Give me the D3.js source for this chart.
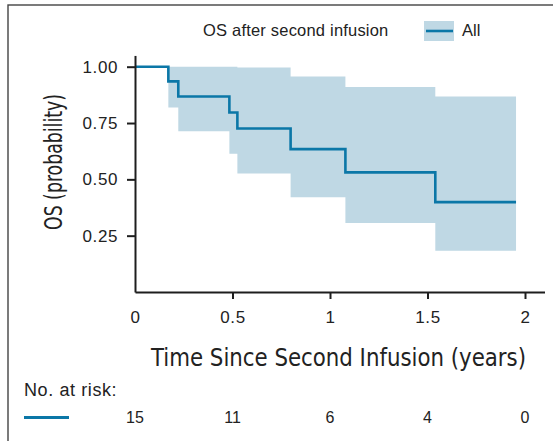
<!DOCTYPE html>
<html>
<head>
<meta charset="utf-8">
<script src="https://cdn.jsdelivr.net/npm/d3@7"></script>
<style>
  html, body { margin: 0; padding: 0; background: #fff; }
  svg { display: block; }
  text { fill: #222; font-family: "Liberation Sans", Arial, Helvetica, sans-serif; }
  .narrow { font-family: "Liberation Sans Narrow", "Arial Narrow", "DejaVu Sans Condensed", "Liberation Sans", sans-serif; }
</style>
</head>
<body>
<script>
// Kaplan–Meier estimate (step starts at each time)
const kmTimes = [0, 0.171, 0.222, 0.484, 0.525, 0.798, 1.079, 1.540, 1.954];
const kmSurv  = [1.0, 0.935, 0.868, 0.797, 0.726, 0.634, 0.531, 0.399, 0.399];
// 95% CI band (step starts at each time)
const ciTimes = [0.171, 0.222, 0.484, 0.525, 0.798, 1.079, 1.540, 1.954];
const ciLower = [0.819, 0.713, 0.614, 0.526, 0.420, 0.306, 0.183, 0.183];
const ciUpper = [1.000, 1.000, 1.000, 0.997, 0.957, 0.910, 0.868, 0.868];
// Axis ticks
const xTicks = [0, 0.5, 1, 1.5, 2];
const xTickLabels = ["0", "0.5", "1", "1.5", "2"];
const yTicks = [0.25, 0.5, 0.75, 1.0];
const yTickLabels = ["0.25", "0.50", "0.75", "1.00"];
// Number at risk
const riskTimes = [0, 0.5, 1, 1.5, 2];
const riskCounts = [15, 11, 6, 4, 0];

const W = 553, H = 441;
const lineColor = "#0b77a7";
const bandColor = "#bfd8e4";
const axisColor = "#1e1e1e";

const svg = d3.select("body").append("svg").attr("width", W).attr("height", H);

// outer frame (open on right/bottom, cropped)
svg.append("rect").attr("x", 8).attr("y", 5).attr("width", 600).attr("height", 500)
  .attr("fill", "none").attr("stroke", "#444").attr("stroke-width", 1.4);

const x = d3.scaleLinear().domain([0, 2.1]).range([135, 135 + 2.1 * 195]);
const y = d3.scaleLinear().domain([0, 1.05]).range([292, 292 - 1.05 * 225.3]);

// CI band
const band = d3.area()
  .x((d, i) => x(ciTimes[i]))
  .y0((d, i) => y(ciLower[i]))
  .y1((d, i) => y(ciUpper[i]))
  .curve(d3.curveStepAfter);
svg.append("path").datum(ciTimes).attr("d", band).attr("fill", bandColor);

// KM line
const line = d3.line()
  .x((d, i) => x(kmTimes[i]))
  .y((d, i) => y(kmSurv[i]))
  .curve(d3.curveStepAfter);
svg.append("path").datum(kmTimes).attr("d", line)
  .attr("fill", "none").attr("stroke", lineColor).attr("stroke-width", 2.6);

// Y axis
const yAxis = d3.axisLeft(y).tickValues(yTicks)
  .tickFormat((d, i) => yTickLabels[i]).tickSize(8).tickPadding(9).tickSizeOuter(0);
const gy = svg.append("g").attr("transform", "translate(135,0)").call(yAxis);
gy.select(".domain").attr("stroke", axisColor).attr("stroke-width", 2);
gy.selectAll(".tick line").attr("stroke", axisColor).attr("stroke-width", 2);
gy.selectAll(".tick text").attr("font-size", 17).attr("fill", "#222")
  .attr("letter-spacing", 0.6)
  .attr("font-family", "Liberation Sans, Arial, sans-serif");

// X axis
const xAxis = d3.axisBottom(x).tickValues(xTicks)
  .tickFormat((d, i) => xTickLabels[i]).tickSize(7).tickPadding(12).tickSizeOuter(0);
const gx = svg.append("g").attr("transform", "translate(0,292)").call(xAxis);
gx.select(".domain").attr("stroke", axisColor).attr("stroke-width", 2);
gx.selectAll(".tick line").attr("stroke", axisColor).attr("stroke-width", 2)
  .attr("opacity", d => d === 0 ? 0 : 1);
gx.selectAll(".tick text").attr("font-size", 17).attr("fill", "#222")
  .attr("letter-spacing", 0.6)
  .attr("font-family", "Liberation Sans, Arial, sans-serif");

// Axis titles
svg.append("text").attr("class", "narrow")
  .attr("x", 151).attr("y", 366)
  .attr("font-size", 24)
  .attr("textLength", 375).attr("lengthAdjust", "spacingAndGlyphs")
  .text("Time Since Second Infusion (years)");

svg.append("text").attr("class", "narrow")
  .attr("transform", "translate(62,230) rotate(-90)")
  .attr("font-size", 24)
  .attr("textLength", 136).attr("lengthAdjust", "spacingAndGlyphs")
  .text("OS (probability)");

// Legend
svg.append("text").attr("x", 203).attr("y", 36).attr("font-size", 16.5)
  .attr("letter-spacing", 0.2)
  .text("OS after second infusion");
svg.append("rect").attr("x", 424).attr("y", 21).attr("width", 30).attr("height", 20)
  .attr("fill", bandColor);
svg.append("line").attr("x1", 426).attr("x2", 453).attr("y1", 31).attr("y2", 31)
  .attr("stroke", lineColor).attr("stroke-width", 2.6);
svg.append("text").attr("x", 462).attr("y", 36).attr("font-size", 16.5).text("All");

// Number at risk
svg.append("text").attr("x", 24).attr("y", 396).attr("font-size", 18)
  .attr("letter-spacing", 0.6).text("No. at risk:");
svg.append("line").attr("x1", 24).attr("x2", 69).attr("y1", 417.5).attr("y2", 417.5)
  .attr("stroke", lineColor).attr("stroke-width", 3);
svg.selectAll("text.risk").data(riskCounts).enter().append("text")
  .attr("class", "risk")
  .attr("x", (d, i) => x(riskTimes[i]))
  .attr("y", 423)
  .attr("text-anchor", "middle")
  .attr("font-size", 16)
  .text(d => d);
</script>
</body>
</html>
